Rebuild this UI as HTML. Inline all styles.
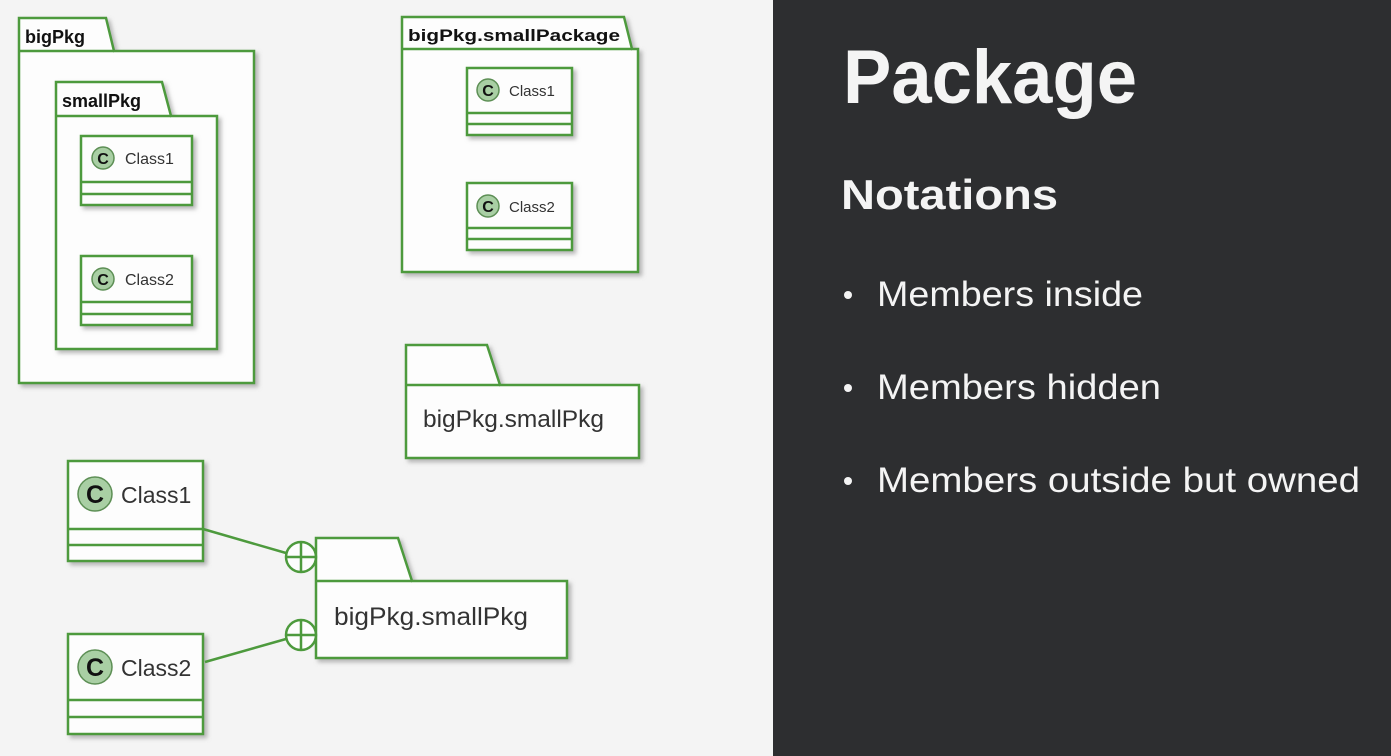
<!DOCTYPE html>
<html><head><meta charset="utf-8"><style>
html,body{margin:0;padding:0;background:#f4f4f4}
svg{display:block}
</style></head><body>
<svg width="1391" height="756" viewBox="0 0 1391 756" xmlns="http://www.w3.org/2000/svg" font-family="Liberation Sans, sans-serif">
<defs>
<filter id="sh" x="-10%" y="-10%" width="130%" height="130%"><feDropShadow dx="3" dy="3" stdDeviation="2" flood-color="#888" flood-opacity="0.6"/></filter>
</defs>
<rect x="0" y="0" width="773" height="756" fill="#f4f4f4"/>
<rect x="773" y="0" width="618" height="756" fill="#2d2e30"/>
<g stroke="#4d9a3d" stroke-width="2.5" fill="#fdfdfd">
<g filter="url(#sh)">
<path d="M19,51 L19,18 L106,18 L114,51 L254,51 L254,383 L19,383 Z"/>
</g>
<line x1="19" y1="51" x2="114" y2="51"/>
<g filter="url(#sh)">
<path d="M56,116 L56,82 L162,82 L171,116 L217,116 L217,349 L56,349 Z"/>
</g>
<line x1="56" y1="116" x2="171" y2="116"/>
<g filter="url(#sh)"><rect x="81" y="136" width="111" height="69"/></g>
<line x1="81" y1="182" x2="192" y2="182"/><line x1="81" y1="194" x2="192" y2="194"/>
<g filter="url(#sh)"><rect x="81" y="256" width="111" height="69"/></g>
<line x1="81" y1="302" x2="192" y2="302"/><line x1="81" y1="314" x2="192" y2="314"/>
<g filter="url(#sh)">
<path d="M402,49 L402,17 L624,17 L632,49 L638,49 L638,272 L402,272 Z"/>
</g>
<line x1="402" y1="49" x2="632" y2="49"/>
<g filter="url(#sh)"><rect x="467" y="68" width="105" height="67"/></g>
<line x1="467" y1="113" x2="572" y2="113"/><line x1="467" y1="124" x2="572" y2="124"/>
<g filter="url(#sh)"><rect x="467" y="183" width="105" height="67"/></g>
<line x1="467" y1="228" x2="572" y2="228"/><line x1="467" y1="239" x2="572" y2="239"/>
<g filter="url(#sh)"><path d="M406,385 L406,345 L487,345 L500,385 L639,385 L639,458 L406,458 Z"/></g>
<line x1="406" y1="385" x2="500" y2="385"/>
<g filter="url(#sh)"><rect x="68" y="461" width="135" height="100"/></g>
<line x1="68" y1="529" x2="203" y2="529"/><line x1="68" y1="545" x2="203" y2="545"/>
<g filter="url(#sh)"><rect x="68" y="634" width="135" height="100"/></g>
<line x1="68" y1="700" x2="203" y2="700"/><line x1="68" y1="717" x2="203" y2="717"/>
<g filter="url(#sh)"><path d="M316,581 L316,538 L398,538 L412,581 L567,581 L567,658 L316,658 Z"/></g>
<line x1="316" y1="581" x2="412" y2="581"/>
<line x1="203" y1="529" x2="286" y2="553"/>
<line x1="205" y1="662" x2="286" y2="639"/>
<circle cx="301" cy="557" r="15"/>
<line x1="286" y1="557" x2="316" y2="557"/><line x1="301" y1="542" x2="301" y2="572"/>
<circle cx="301" cy="635" r="15"/>
<line x1="286" y1="635" x2="316" y2="635"/><line x1="301" y1="620" x2="301" y2="650"/>
</g>
<g fill="#a9cfa4" stroke="#5d8f55" stroke-width="1.5">
<circle cx="103" cy="158" r="11"/><circle cx="103" cy="279" r="11"/>
<circle cx="488" cy="90" r="11"/><circle cx="488" cy="206" r="11"/>
<circle cx="95" cy="494" r="17"/><circle cx="95" cy="667" r="17"/>
</g>
<g font-weight="bold" fill="#111" text-anchor="middle">
<text x="103" y="164" font-size="16">C</text><text x="103" y="285" font-size="16">C</text>
<text x="488" y="96" font-size="16">C</text><text x="488" y="212" font-size="16">C</text>
<text x="95" y="503" font-size="25">C</text><text x="95" y="676" font-size="25">C</text>
</g>
<g fill="#333">
<text x="25" y="43" font-size="18" font-weight="bold" fill="#111">bigPkg</text>
<text x="62" y="107" font-size="18" font-weight="bold" fill="#111">smallPkg</text>
<text x="408" y="41" font-size="17" font-weight="bold" fill="#111" textLength="212" lengthAdjust="spacingAndGlyphs">bigPkg.smallPackage</text>
<text x="125" y="164" font-size="16">Class1</text>
<text x="125" y="285" font-size="16">Class2</text>
<text x="509" y="96" font-size="15">Class1</text>
<text x="509" y="212" font-size="15">Class2</text>
<text x="121" y="503" font-size="23">Class1</text>
<text x="121" y="676" font-size="23">Class2</text>
<text x="423" y="427" font-size="24" textLength="181" lengthAdjust="spacingAndGlyphs">bigPkg.smallPkg</text>
<text x="334" y="625" font-size="25" textLength="194" lengthAdjust="spacingAndGlyphs">bigPkg.smallPkg</text>
</g>
<g fill="#f4f4f4">
<text x="843" y="103" font-size="76" font-weight="bold" textLength="294" lengthAdjust="spacingAndGlyphs">Package</text>
<text x="841" y="209" font-size="42" font-weight="bold" textLength="217" lengthAdjust="spacingAndGlyphs">Notations</text>
<circle cx="848" cy="295" r="4"/><circle cx="848" cy="388" r="4"/><circle cx="848" cy="481" r="4"/>
<text x="877" y="306" font-size="35" textLength="266" lengthAdjust="spacingAndGlyphs">Members inside</text>
<text x="877" y="399" font-size="35" textLength="284" lengthAdjust="spacingAndGlyphs">Members hidden</text>
<text x="877" y="492" font-size="35" textLength="483" lengthAdjust="spacingAndGlyphs">Members outside but owned</text>
</g>
</svg>
</body></html>
